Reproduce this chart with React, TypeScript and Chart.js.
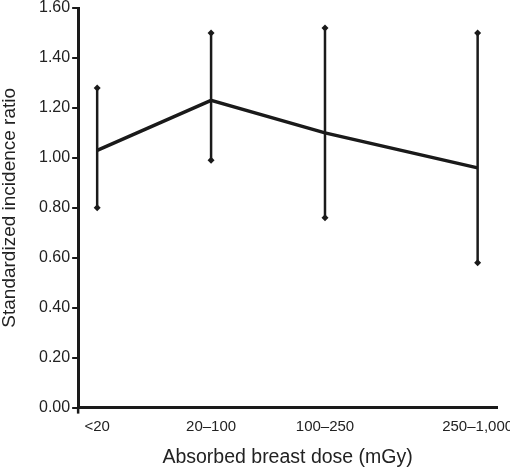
import React, { useEffect, useRef } from "react";
import { Chart, registerables } from "chart.js";

Chart.register(...registerables);

const categories = ["<20", "20\u2013100", "100\u2013250", "250\u20131,000"];
const xPositions = [0, 1, 2, 3.34];
const ratio = [1.03, 1.23, 1.1, 0.96];
const upper = [1.28, 1.5, 1.52, 1.5];
const lower = [0.8, 0.99, 0.76, 0.58];
const yTicks = [0, 0.2, 0.4, 0.6, 0.8, 1.0, 1.2, 1.4, 1.6];

const INK = "#1a1a1a";
const FONT = "'Liberation Sans', Arial, sans-serif";

const errorBarPlugin = {
  id: "errorBars",
  afterDatasetsDraw(chart: any) {
    const { ctx, scales, chartArea } = chart;
    const xs = scales.x;
    const ys = scales.y;
    ctx.save();
    ctx.strokeStyle = INK;
    ctx.fillStyle = INK;
    ctx.lineWidth = 2.5;
    ctx.beginPath();
    ctx.moveTo(chartArea.left, chartArea.bottom);
    ctx.lineTo(chartArea.left, chartArea.bottom + 6);
    ctx.stroke();
    for (let i = 0; i < categories.length; i++) {
      const px = xs.getPixelForValue(xPositions[i]);
      const pu = ys.getPixelForValue(upper[i]);
      const pl = ys.getPixelForValue(lower[i]);
      ctx.beginPath();
      ctx.moveTo(px, pu);
      ctx.lineTo(px, pl);
      ctx.stroke();
      for (const py of [pu, pl]) {
        const d = 3.5;
        ctx.beginPath();
        ctx.moveTo(px, py - d);
        ctx.lineTo(px + d, py);
        ctx.lineTo(px, py + d);
        ctx.lineTo(px - d, py);
        ctx.closePath();
        ctx.fill();
      }
    }
    ctx.restore();
  },
};

export default function App() {
  const ref = useRef<HTMLCanvasElement>(null);
  useEffect(() => {
    if (!ref.current) return;
    const chart = new Chart(ref.current, {
      type: "line",
      data: {
        datasets: [
          {
            data: xPositions.map((x, i) => ({ x, y: ratio[i] })),
            borderColor: INK,
            borderWidth: 3.4,
            pointRadius: 0,
            tension: 0,
          },
        ],
      },
      options: {
        animation: false,
        responsive: true,
        maintainAspectRatio: false,
        layout: { padding: { top: 0, right: 0, left: 0, bottom: 0 } },
        plugins: {
          legend: { display: false },
          tooltip: { enabled: false },
        },
        scales: {
          x: {
            type: "linear",
            min: -0.167,
            max: 3.51,
            afterBuildTicks(axis: any) {
              axis.ticks = xPositions.map((v) => ({ value: v }));
            },
            afterFit(scale: any) {
              scale.paddingLeft = 0;
              scale.paddingRight = 13;
            },
            border: { display: true, color: INK, width: 3 },
            grid: { display: false, drawTicks: false },
            ticks: {
              autoSkip: false,
              maxRotation: 0,
              padding: 10,
              color: "#222",
              font: { family: FONT, size: 15 },
              callback: (v: any) => {
                const idx = xPositions.indexOf(Number(v));
                return idx >= 0 ? categories[idx] : "";
              },
            },
            title: {
              display: true,
              text: "Absorbed breast dose (mGy)",
              color: "#222",
              font: { family: FONT, size: 19.5 },
              padding: { top: 0, bottom: 0 },
            },
          },
          y: {
            min: 0,
            max: 1.6,
            afterBuildTicks(axis: any) {
              axis.ticks = yTicks.map((v) => ({ value: v }));
            },
            afterFit(scale: any) {
              scale.paddingTop = 8;
              scale.paddingBottom = 0;
            },
            border: { display: true, color: INK, width: 3 },
            grid: {
              drawOnChartArea: false,
              drawTicks: true,
              tickLength: 6,
              color: INK,
              lineWidth: 2,
            },
            ticks: {
              padding: 2,
              color: "#222",
              font: { family: FONT, size: 16 },
              callback: (v: any) => Number(v).toFixed(2),
            },
            title: {
              display: true,
              text: "Standardized incidence ratio",
              color: "#222",
              font: { family: FONT, size: 19, lineHeight: 1 },
              padding: { top: 0, bottom: 18 },
            },
          },
        },
      },
      plugins: [errorBarPlugin],
    });
    return () => chart.destroy();
  }, []);
  return (
    <div style={{ position: "fixed", left: 0, top: 0, width: 510, height: 469, background: "#fff" }}>
      <canvas ref={ref} />
    </div>
  );
}
